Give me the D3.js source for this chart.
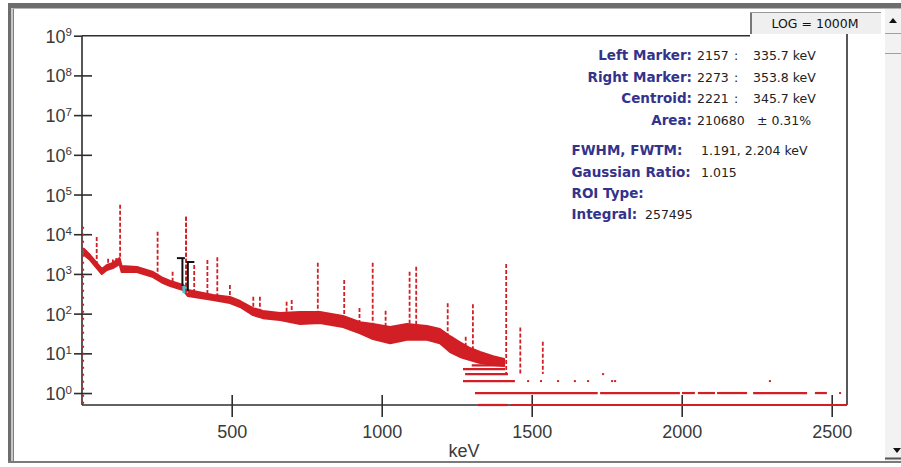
<!DOCTYPE html>
<html>
<head>
<meta charset="utf-8">
<script src="https://cdnjs.cloudflare.com/ajax/libs/d3/7.8.5/d3.min.js"></script>
<style>
body { margin: 0; background: #fff; }
svg { display: block; }
</style>
</head>
<body>
<div id="chart"></div>
<script>
const WIDTH = 901;
const HEIGHT = 467;

// continuum band: energy (keV), upper and lower edge (counts)
const contKeV = [8, 28, 67, 84, 104, 126, 133, 184, 238, 271, 295, 338, 354, 438, 494, 528, 571, 604, 661, 728, 794, 871, 928, 971, 1028, 1084, 1151, 1194, 1228, 1261, 1294, 1328, 1371, 1408];
const contHi = [4240, 2990, 1330, 1675, 1883, 2515, 1581, 1493, 1117, 788, 662, 525, 393, 294, 262, 208, 138, 116, 104, 110, 110, 87, 61, 55, 46, 55, 49, 41, 27, 19, 13.6, 10.8, 8.5, 7.2];
const contLo = [2990, 2240, 994, 1254, 1408, 1775, 1117, 1117, 836, 590, 496, 393, 277, 220, 185, 147, 92, 77, 69, 55, 58, 46, 32, 23, 18, 22, 22, 18, 10.8, 8.1, 6.8, 5.7, 5.1, 4.8];

// peaks: energy (keV) and top (counts)
const peakKeV = [50, 88, 104, 115, 128, 253, 303, 348, 375, 419, 452, 494, 572, 594, 683, 700, 787, 875, 926, 970, 1013, 1093, 1115, 1220, 1280, 1304, 1415, 1462, 1537];
const peakTop = [8500, 2400, 2300, 2500, 55000, 11500, 1140, 27600, 1670, 2240, 2640, 525, 265, 265, 200, 220, 1910, 700, 138, 1910, 118, 1140, 1510, 182, 26, 172, 1780, 45, 19.5];

// first channels, dotted from zero up
const lowChanKeV = 5;
const lowChanTop = 15500;

// low-count channels sit on whole numbers: runs of channels
const levelCount = [5, 4, 3, 2, 1, 1, 1, 1, 1, 1, 1, 0, 0];
const levelFrom = [1300, 1271, 1278, 1271, 1311, 1728, 2001, 2054, 2118, 2238, 2444, 1321, 1430];
const levelTo = [1411, 1411, 1421, 1444, 1720, 1994, 2044, 2111, 2218, 2418, 2484, 1420, 2551];
const dotKeV = [1488, 1531, 1588, 1644, 1688, 1738, 1768, 1778, 2294, 2528];
const dotCount = [2, 2, 2, 2, 2, 3, 2, 2, 2, 1];

// ROI markers
const markerKeV = [335.7, 353.8];
const markerTop = [2500, 2000];
const markerBot = [500, 370];

// axis ticks
const xTicks = [500, 1000, 1500, 2000, 2500];
const yExp = [0, 1, 2, 3, 4, 5, 6, 7, 8, 9];

// info panel
const infoLabels = ["Left Marker:", "Right Marker:", "Centroid:", "Area:"];
const infoChan = ["2157", "2273", "2221", "210680"];
const infoSep = [":", ":", ":", ""];
const infoKeV = ["335.7 keV", "353.8 keV", "345.7 keV", "\u00b1 0.31%"];
const fitLabels = ["FWHM, FWTM:", "Gaussian Ratio:", "ROI Type:", "Integral:"];
const fitValues = ["1.191, 2.204 keV", "1.015", "", "257495"];

const RED = "#d11f25";
const AXIS = "#2e2e2e";

const svg = d3.select("#chart").append("svg")
  .attr("width", WIDTH)
  .attr("height", HEIGHT);

svg.append("rect").attr("width", WIDTH).attr("height", HEIGHT).attr("fill", "#fff");

let x = d3.scaleLinear().domain([0, 2551]).range([81.7, 847]);
let y = d3.scaleLog().domain([0.5, 1e9]).range([405, 35.7]);
const yc = c => c <= 0 ? y(0.5) : y(c);

// window frame
svg.append("rect").attr("x", 8).attr("y", 3).attr("width", WIDTH - 8).attr("height", 5).attr("fill", "#6d6d6d");
svg.append("rect").attr("x", 8).attr("y", 8).attr("width", WIDTH - 8).attr("height", 1).attr("fill", "#b4b4b4");
svg.append("rect").attr("x", 8).attr("y", 3).attr("width", 3).attr("height", 460).attr("fill", "#6d6d6d");
svg.append("rect").attr("x", 11).attr("y", 8).attr("width", 2).attr("height", 455).attr("fill", "#c8c8c8");
svg.append("rect").attr("x", 13).attr("y", 9).attr("width", 1).attr("height", 453).attr("fill", "#808080");
svg.append("rect").attr("x", 8).attr("y", 461).attr("width", WIDTH - 8).attr("height", 2).attr("fill", "#7a7a7a");

// scrollbar
svg.append("rect").attr("x", 885).attr("y", 9).attr("width", 16).attr("height", 452).attr("fill", "#f2f2f2");
svg.append("line").attr("x1", 885).attr("x2", 901).attr("y1", 33.5).attr("y2", 33.5).attr("stroke", "#a0a0a0");
svg.append("line").attr("x1", 885).attr("x2", 901).attr("y1", 53.5).attr("y2", 53.5).attr("stroke", "#a0a0a0");
svg.append("path").attr("d", "M889,23 L897,23 L893,18 Z").attr("fill", "#111");
svg.append("line").attr("x1", 885).attr("x2", 901).attr("y1", 458.5).attr("y2", 458.5).attr("stroke", "#555").attr("stroke-width", 2);
svg.append("path").attr("d", "M893,448 L901,448 L897,453 Z").attr("fill", "#111");

// LOG button
svg.append("rect").attr("x", 750).attr("y", 12).attr("width", 131).attr("height", 22).attr("fill", "#efefef");
svg.append("line").attr("x1", 751).attr("x2", 751).attr("y1", 12).attr("y2", 34).attr("stroke", "#777").attr("stroke-width", 2);
svg.append("line").attr("x1", 750).attr("x2", 881).attr("y1", 12.5).attr("y2", 12.5).attr("stroke", "#999");
svg.append("text").attr("x", 815).attr("y", 28).attr("text-anchor", "middle")
  .style("font-family", "'DejaVu Sans', sans-serif").style("font-size", "12.5px").attr("fill", "#111")
  .text("LOG = 1000M");

// plot border: top and right
svg.append("line").attr("x1", 82).attr("x2", 750).attr("y1", 35.7).attr("y2", 35.7).attr("stroke", AXIS).attr("stroke-width", 1.6);
svg.append("line").attr("x1", 847).attr("x2", 847).attr("y1", 34).attr("y2", 405).attr("stroke", AXIS).attr("stroke-width", 1.6);

// axes
const xAxis = d3.axisBottom(x).tickValues(xTicks).tickSize(12).tickFormat("");
const gx = svg.append("g").attr("transform", "translate(0,405)").call(xAxis);
gx.select(".domain").attr("d", "M82,0H847").attr("stroke", AXIS).attr("stroke-width", 1.6);
gx.selectAll(".tick line").attr("y1", -10).attr("stroke", AXIS).attr("stroke-width", 1.6);
gx.selectAll(".tick").append("text")
  .attr("y", 32.7).attr("fill", "#3a3a3a")
  .style("font-family", "'Liberation Sans', Arial, sans-serif").style("font-size", "18px")
  .attr("text-anchor", "middle")
  .text(d => d);

const yAxis = d3.axisLeft(y).tickValues(yExp.map(e => Math.pow(10, e))).tickSize(8).tickFormat("");
const gy = svg.append("g").attr("transform", "translate(82,0)").call(yAxis);
gy.select(".domain").attr("d", "M0,35.7V405").attr("stroke", AXIS).attr("stroke-width", 1.6);
gy.selectAll(".tick line").attr("x1", d => d >= 1e9 ? 0 : 10).attr("stroke", AXIS).attr("stroke-width", 1.6);
const ylab = gy.selectAll(".tick").append("text")
  .attr("x", -10).attr("y", 6.5).attr("fill", "#3a3a3a").attr("text-anchor", "end")
  .style("font-family", "'Liberation Sans', Arial, sans-serif").style("font-size", "18px");
ylab.append("tspan").text("10");
ylab.append("tspan").attr("dy", -6.5).style("font-size", "11.5px").text(d => Math.round(Math.log10(d)));

svg.append("text").attr("x", 464).attr("y", 457).attr("text-anchor", "middle").attr("fill", "#3a3a3a")
  .style("font-family", "'Liberation Sans', Arial, sans-serif").style("font-size", "18px")
  .text("keV");

// spectrum
const plot = svg.append("g");
const band = contKeV.map((k, i) => ({ k: k, hi: contHi[i], lo: contLo[i] }));

plot.append("path").datum(band)
  .attr("fill", RED).attr("stroke", RED).attr("stroke-width", 2).attr("stroke-linejoin", "round")
  .attr("d", d3.area().x(d => x(d.k)).y0(d => y(d.lo)).y1(d => y(d.hi)));

// base of a peak on the band edge
const logHi = contHi.map(Math.log10);
function baseAt(k) {
  if (k > contKeV[contKeV.length - 1]) return 3;
  const i = Math.max(1, d3.bisectLeft(contKeV, k));
  const t = (k - contKeV[i - 1]) / (contKeV[i] - contKeV[i - 1]);
  return Math.pow(10, logHi[i - 1] + t * (logHi[i] - logHi[i - 1]));
}

plot.selectAll(".peak").data(peakKeV).join("line")
  .attr("class", "peak")
  .attr("x1", d => x(d)).attr("x2", d => x(d))
  .attr("y1", (d, i) => y(peakTop[i]))
  .attr("y2", d => y(baseAt(d)))
  .attr("stroke", RED).attr("stroke-width", 1.8).attr("stroke-dasharray", "4,2");

plot.append("line")
  .attr("x1", x(lowChanKeV)).attr("x2", x(lowChanKeV))
  .attr("y1", y(lowChanTop)).attr("y2", y(0.5))
  .attr("stroke", RED).attr("stroke-width", 1.8).attr("stroke-dasharray", "2,5");

plot.selectAll(".level").data(levelCount).join("line")
  .attr("class", "level")
  .attr("x1", (d, i) => x(levelFrom[i])).attr("x2", (d, i) => x(levelTo[i]))
  .attr("y1", d => yc(d)).attr("y2", d => yc(d))
  .attr("stroke", RED).attr("stroke-width", 2.2);

plot.selectAll(".dot").data(dotKeV).join("rect")
  .attr("class", "dot")
  .attr("x", d => x(d) - 1).attr("y", (d, i) => yc(dotCount[i]) - 1)
  .attr("width", 2).attr("height", 2).attr("fill", RED);

// ROI region (cyan) and markers
plot.append("rect")
  .attr("x", x(markerKeV[0])).attr("width", x(markerKeV[1]) - x(markerKeV[0]))
  .attr("y", y(markerBot[0])).attr("height", y(markerBot[1]) - y(markerBot[0]) + 2)
  .attr("fill", "#4cc3d0");
plot.append("line")
  .attr("x1", x(348)).attr("x2", x(348))
  .attr("y1", y(27600)).attr("y2", y(300))
  .attr("stroke", RED).attr("stroke-width", 1.8).attr("stroke-dasharray", "4,2");

markerKeV.forEach((k, i) => {
  const mx = x(k);
  plot.append("line").attr("x1", mx).attr("x2", mx)
    .attr("y1", y(markerTop[i])).attr("y2", y(markerBot[i]))
    .attr("stroke", "#111").attr("stroke-width", 2);
  plot.append("line").attr("x1", i === 0 ? mx - 5.5 : mx - 1.5).attr("x2", i === 0 ? mx + 2.5 : mx + 6.5)
    .attr("y1", y(markerTop[i])).attr("y2", y(markerTop[i]))
    .attr("stroke", "#111").attr("stroke-width", 2);
});

// info panel
const info = svg.append("g")
  .style("font-family", "'DejaVu Sans', Verdana, sans-serif").style("font-size", "12.5px");
const rowY = [60, 81.5, 103, 125];
infoLabels.forEach((lab, i) => {
  info.append("text").attr("x", 692).attr("y", rowY[i]).attr("text-anchor", "end")
    .attr("fill", "#33338c").style("font-weight", "bold").style("font-size", "13.5px").text(lab);
  info.append("text").attr("x", 697).attr("y", rowY[i]).attr("fill", "#222").text(infoChan[i]);
  info.append("text").attr("x", 734).attr("y", rowY[i]).attr("fill", "#222").text(infoSep[i]);
  info.append("text").attr("x", i === 3 ? 757 : 753).attr("y", rowY[i]).attr("fill", "#222").text(infoKeV[i]);
});
const fitY = [155, 176.5, 197.5, 219];
const fitX = [701, 701, 701, 645];
fitLabels.forEach((lab, i) => {
  info.append("text").attr("x", 571.5).attr("y", fitY[i])
    .attr("fill", "#33338c").style("font-weight", "bold").style("font-size", "13.5px").text(lab);
  info.append("text").attr("x", fitX[i]).attr("y", fitY[i]).attr("fill", "#222").text(fitValues[i]);
});
</script>
</body>
</html>
